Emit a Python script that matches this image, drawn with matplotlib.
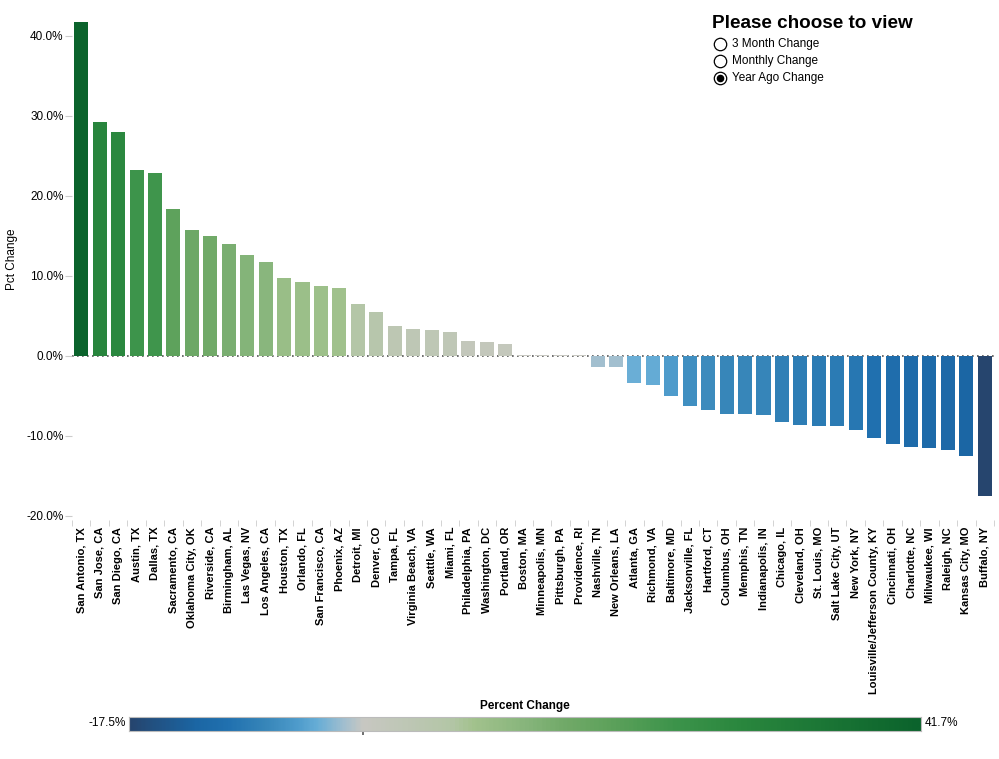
import matplotlib
matplotlib.use("Agg")
import matplotlib.pyplot as plt
import numpy as np
from matplotlib.colors import LinearSegmentedColormap, TwoSlopeNorm

plt.rcParams['font.family'] = ['Liberation Sans', 'DejaVu Sans']

cities = ["San Antonio, TX", "San Jose, CA", "San Diego, CA", "Austin, TX", "Dallas, TX",
          "Sacramento, CA", "Oklahoma City, OK", "Riverside, CA", "Birmingham, AL",
          "Las Vegas, NV", "Los Angeles, CA", "Houston, TX", "Orlando, FL",
          "San Francisco, CA", "Phoenix, AZ", "Detroit, MI", "Denver, CO", "Tampa, FL",
          "Virginia Beach, VA", "Seattle, WA", "Miami, FL", "Philadelphia, PA",
          "Washington, DC", "Portland, OR", "Boston, MA", "Minneapolis, MN",
          "Pittsburgh, PA", "Providence, RI", "Nashville, TN", "New Orleans, LA",
          "Atlanta, GA", "Richmond, VA", "Baltimore, MD", "Jacksonville, FL",
          "Hartford, CT", "Columbus, OH", "Memphis, TN", "Indianapolis, IN",
          "Chicago, IL", "Cleveland, OH", "St. Louis, MO", "Salt Lake City, UT",
          "New York, NY", "Louisville/Jefferson County, KY", "Cincinnati, OH",
          "Charlotte, NC", "Milwaukee, WI", "Raleigh, NC", "Kansas City, MO", "Buffalo, NY"]
pct_change = [41.7, 29.2, 28.0, 23.2, 22.9, 18.4, 15.8, 15.0, 14.0, 12.6, 11.8, 9.7,
              9.3, 8.8, 8.5, 6.5, 5.5, 3.8, 3.4, 3.3, 3.0, 1.9, 1.8, 1.5, 0.1, 0.1, 0.1,
              0.1, -1.4, -1.4, -3.4, -3.6, -5.0, -6.3, -6.7, -7.3, -7.3, -7.4, -8.2,
              -8.6, -8.8, -8.8, -9.3, -10.3, -11.0, -11.4, -11.5, -11.8, -12.5, -17.5]

legend_title = "Please choose to view"
options = ["3 Month Change", "Monthly Change", "Year Ago Change"]
selected = "Year Ago Change"

vmin, vmax = min(pct_change), max(pct_change)

cmap = LinearSegmentedColormap.from_list("green_blue", [
    (0.00, "#26456e"), (0.14, "#1b66a4"), (0.21, "#2171b0"), (0.29, "#3786b9"),
    (0.36, "#4f9ccc"), (0.40, "#66add6"), (0.46, "#a3bfcf"), (0.50, "#c8c8c2"),
    (0.54, "#bec7b5"), (0.58, "#b3c6a6"), (0.60, "#a2c28d"), (0.65, "#85b47a"),
    (0.68, "#72aa69"), (0.72, "#5fa25c"), (0.78, "#3d944b"), (0.84, "#2a873e"),
    (1.00, "#0b632c")])
norm = TwoSlopeNorm(vmin=vmin, vcenter=0, vmax=vmax)

fig = plt.figure(figsize=(9.99, 7.59), dpi=100)
ax = fig.add_axes([72 / 999, 1 - 520 / 759, 922 / 999, 512 / 759])

x = np.arange(len(cities))
ax.bar(x, pct_change, width=0.76, color=cmap(norm(np.array(pct_change))), zorder=2)
ax.axhline(0, color="#555555", linestyle=(0, (1, 2)), lw=1.2, zorder=1)

ax.set_xlim(-0.5, len(cities) - 0.5)
ax.set_ylim(-20.5, 43.5)
ax.set_yticks([-20, -10, 0, 10, 20, 30, 40])
ax.set_yticklabels([f"{v:.1f}%" for v in [-20, -10, 0, 10, 20, 30, 40]], fontsize=8.5)
ax.set_xticks(x)
ax.set_xticklabels(cities, rotation=90, fontsize=8, fontweight="bold", va="top")
ax.set_xticks(np.arange(len(cities) + 1) - 0.5, minor=True)
ax.tick_params(axis="x", which="major", length=0, pad=5)
ax.tick_params(axis="x", which="minor", length=4, color="#cccccc")
ax.tick_params(axis="y", length=5, color="#cccccc", pad=1)
for s in ax.spines.values():
    s.set_visible(False)
ax.set_ylabel("Pct Change", fontsize=8.5)
ax.yaxis.set_label_coords(-0.059, 0.51)

# radio-button legend
ov = fig.add_axes([0, 0, 1, 1], zorder=5)
ov.set_xlim(0, 999)
ov.set_ylim(759, 0)
ov.axis("off")
ov.text(712, 23, legend_title, fontsize=13.6, fontweight="bold", va="center", ha="left")
for i, opt in enumerate(options):
    yy = 44 + i * 17
    ov.scatter([720], [yy], s=80, facecolor="white", edgecolor="black", linewidth=0.9)
    if opt == selected:
        ov.scatter([720], [yy], s=20, color="black")
    ov.text(732, yy, opt, fontsize=8.5, va="center", ha="left")

# colour legend
cb = fig.add_axes([129 / 999, 1 - 731 / 759, 792 / 999, 14 / 759])
grad = np.linspace(vmin, vmax, 600)
cb.imshow(norm(grad)[None, :], cmap=cmap, aspect="auto", vmin=0, vmax=1,
          extent=[vmin, vmax, 0, 1])
cb.set_yticks([])
cb.set_xticks([0])
cb.set_xticklabels([])
cb.tick_params(axis="x", length=3, color="#555555", width=1.2)
for s in cb.spines.values():
    s.set_color("#bbbbbb")
ov.text(525, 706, "Percent Change", fontsize=8.5, fontweight="bold", ha="center", va="center")
ov.text(126, 723, f"{vmin:.1f}%", fontsize=8.5, ha="right", va="center")
ov.text(925, 723, f"{vmax:.1f}%", fontsize=8.5, ha="left", va="center")

fig.savefig("out.png", dpi=100)
